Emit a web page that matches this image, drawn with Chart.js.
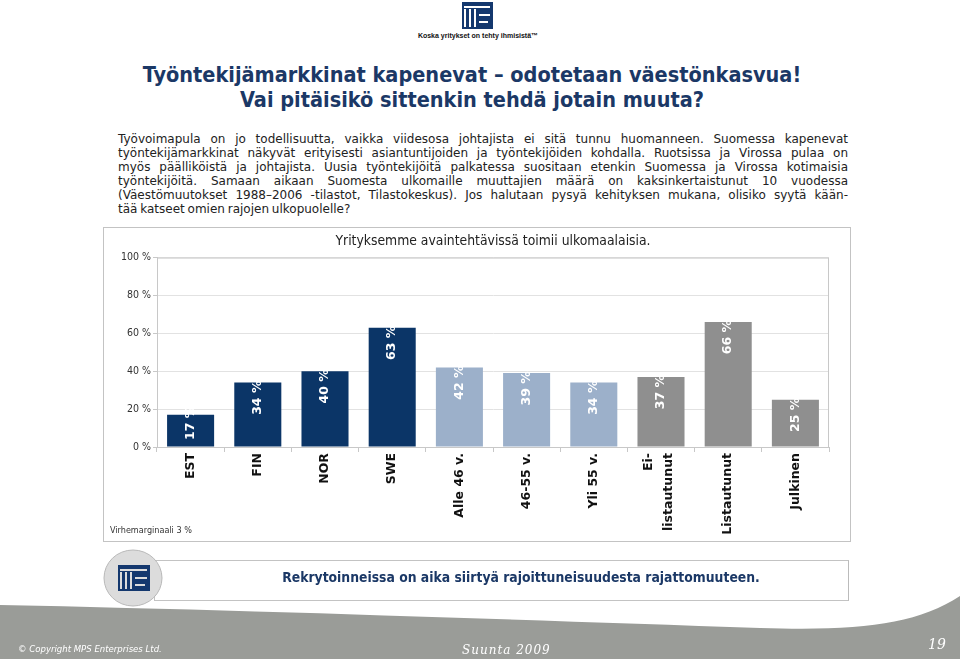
<!DOCTYPE html>
<html>
<head>
<meta charset="utf-8">
<script src="https://cdn.jsdelivr.net/npm/chart.js@4"></script>
<style>
  html, body { margin: 0; padding: 0; }
  body { width: 960px; height: 659px; position: relative; overflow: hidden; background: #fff; font-family: 'DejaVu Sans', sans-serif; }
  .abs { position: absolute; }
  #tagline { left: 380px; width: 196px; top: 32px; text-align: center; font: bold 7px 'Liberation Sans', sans-serif; color: #111; }
  #title { left: 0; width: 944px; top: 62px; text-align: center; font: bold 21.5px 'DejaVu Sans Condensed', sans-serif; line-height: 25px; color: #1b3866; }
  #intro { left: 118px; width: 730px; top: 132px; font-size: 12px; line-height: 14px; color: #222; word-spacing: -1px; }
  #intro div { text-align: justify; text-align-last: justify; white-space: nowrap; }
  #intro div.last { text-align-last: left; }
  #box { left: 103px; top: 227px; width: 748px; height: 315px; border: 1px solid #c3c3c3; box-sizing: border-box; }
  #wrap { position: relative; width: 746px; height: 313px; }
  #note { left: 110px; top: 525px; font: 9px 'DejaVu Sans Condensed', sans-serif; color: #333; }
  #callout { left: 154px; top: 560px; width: 695px; height: 41px; border: 1px solid #c3c3c3; border-right: 1.5px solid #bbb; box-sizing: border-box; }
  #callText { left: 154px; width: 734px; top: 569px; text-align: center; font: bold 13.8px 'DejaVu Sans Condensed', sans-serif; color: #1b3866; }
  #copy { left: 18px; top: 643px; font: italic 9.5px 'DejaVu Sans Condensed', sans-serif; color: #fff; }
  #suunta { left: 462px; top: 643px; font: italic 12px 'DejaVu Serif', serif; letter-spacing: 1px; color: #fff; }
  #page { left: 928px; top: 636px; font: italic 14px 'DejaVu Serif', serif; color: #fff; }
</style>
</head>
<body>

<svg class="abs" style="left:462px;top:2px" width="31" height="27" viewBox="0 0 31 27">
  <rect x="0" y="0" width="31" height="27" fill="#14386e"/>
  <rect x="2" y="7" width="2" height="18" fill="#fff"/>
  <rect x="7" y="7" width="2" height="18" fill="#fff"/>
  <rect x="12" y="7" width="2" height="18" fill="#fff"/>
  <rect x="2" y="4" width="26" height="2" fill="#fff"/>
  <rect x="17" y="12" width="11" height="2" fill="#fff"/>
  <rect x="17" y="19" width="9" height="2" fill="#fff"/>
</svg>
<div id="tagline" class="abs">Koska yritykset on tehty ihmisistä™</div>

<div id="title" class="abs">Työntekijämarkkinat kapenevat – odotetaan väestönkasvua!<br>Vai pitäisikö sittenkin tehdä jotain muuta?</div>

<div id="intro" class="abs">
  <div>Työvoimapula on jo todellisuutta, vaikka viidesosa johtajista ei sitä tunnu huomanneen. Suomessa kapenevat</div>
  <div>työntekijämarkkinat näkyvät erityisesti asiantuntijoiden ja työntekijöiden kohdalla. Ruotsissa ja Virossa pulaa on</div>
  <div>myös päälliköistä ja johtajista. Uusia työntekijöitä palkatessa suositaan etenkin Suomessa ja Virossa kotimaisia</div>
  <div>työntekijöitä. Samaan aikaan Suomesta ulkomaille muuttajien määrä on kaksinkertaistunut 10 vuodessa</div>
  <div>(Väestömuutokset 1988–2006 -tilastot, Tilastokeskus). Jos halutaan pysyä kehityksen mukana, olisiko syytä kään-</div>
  <div class="last">tää katseet omien rajojen ulkopuolelle?</div>
</div>

<div id="box" class="abs"><div id="wrap"><canvas id="chartMain"></canvas></div></div>
<div id="note" class="abs">Virhemarginaali 3 %</div>

<div id="callout" class="abs"></div>
<svg class="abs" style="left:102px;top:549px" width="64" height="60" viewBox="0 0 64 60">
  <ellipse cx="31" cy="29" rx="29" ry="28" fill="#dcdcdc" stroke="#b8b8b8" stroke-width="1"/>
  <rect x="16" y="16" width="32" height="26" fill="#14386e"/>
  <rect x="18" y="23" width="2" height="17" fill="#dcdcdc"/>
  <rect x="23" y="23" width="2" height="17" fill="#dcdcdc"/>
  <rect x="28" y="23" width="2" height="17" fill="#dcdcdc"/>
  <rect x="18" y="20" width="27" height="2" fill="#dcdcdc"/>
  <rect x="33" y="28" width="12" height="2" fill="#dcdcdc"/>
  <rect x="33" y="35" width="10" height="2" fill="#dcdcdc"/>
</svg>
<div id="callText" class="abs">Rekrytoinneissa on aika siirtyä rajoittuneisuudesta rajattomuuteen.</div>

<svg class="abs" style="left:0;top:590px" width="960" height="69" viewBox="0 0 960 69">
  <path d="M0,15 C250,20 520,30 760,38 C860,41 915,35 960,6 L960,69 L0,69 Z" fill="#9a9c98"/>
</svg>
<div id="copy" class="abs">© Copyright MPS Enterprises Ltd.</div>
<div id="suunta" class="abs">Suunta 2009</div>
<div id="page" class="abs">19</div>

<script>
const chartTitle = "Yrityksemme avaintehtävissä toimii ulkomaalaisia.";
const categories = ["EST", "FIN", "NOR", "SWE", "Alle 46 v.", "46-55 v.", "Yli 55 v.", ["Ei-", "listautunut"], "Listautunut", "Julkinen"];
const values = [17, 34, 40, 63, 42, 39, 34, 37, 66, 25];
const groups = [0, 0, 0, 0, 1, 1, 1, 2, 2, 2];
const yTicks = [0, 20, 40, 60, 80, 100];

const palette = ["#0b3567", "#9cb0ca", "#8f8f8f"];
const lineGrey = "#c8c8c8";

Chart.defaults.font.family = "'DejaVu Sans', sans-serif";

// plot frame (top and right edges)
const frame = {
    id: "frame",
    beforeDatasetsDraw(chart) {
        const a = chart.chartArea;
        const c = chart.ctx;
        c.save();
        c.strokeStyle = lineGrey;
        c.lineWidth = 1;
        c.strokeRect(a.left + 0.5, a.top + 0.5, a.right - a.left - 1, a.bottom - a.top);
        c.restore();
    },
};

// center wrapped x labels on their tick (Chart.js starts them at the tick)
const centerWrapped = {
    id: "centerWrapped",
    beforeDraw(chart) {
        const items = chart.scales.x.getLabelItems();
        items.forEach((it) => {
            if (Array.isArray(it.label) && it.label.length > 1 && !it._shifted) {
                const lh = it.font.lineHeight;
                it.options.translation[0] -= (lh * (it.label.length - 1)) / 2 + 2;
                it._shifted = true;
            }
        });
    },
};

// white vertical value labels at the top of each bar
const barLabels = {
    id: "barLabels",
    afterDatasetsDraw(chart) {
        const c = chart.ctx;
        const base = chart.scales.y.getPixelForValue(0);
        c.save();
        c.font = "bold 12.5px 'DejaVu Sans', sans-serif";
        c.fillStyle = "#fff";
        c.textAlign = "left";
        c.textBaseline = "middle";
        chart.getDatasetMeta(0).data.forEach((bar, i) => {
            const txt = values[i] + " %";
            const w = c.measureText(txt).width;
            let end = bar.y - 2;
            if (end + w > base - 7) end = base - 7 - w;
            c.save();
            c.translate(bar.x, end + w);
            c.rotate(-Math.PI / 2);
            c.fillText(txt, 0, 0);
            c.restore();
        });
        c.restore();
    },
};

new Chart(document.getElementById("chartMain"), {
    type: "bar",
    data: {
        labels: categories,
        datasets: [
            {
                data: values,
                backgroundColor: groups.map((g) => palette[g]),
                borderWidth: 0,
                barPercentage: 0.7,
                categoryPercentage: 1,
            },
        ],
    },
    options: {
        responsive: true,
        maintainAspectRatio: false,
        animation: false,
        layout: { padding: { left: 0, right: 21, top: 0, bottom: 0 } },
        plugins: {
            legend: { display: false },
            tooltip: { enabled: false },
            title: {
                display: true,
                text: chartTitle,
                fullSize: false,
                color: "#222",
                font: { family: "'DejaVu Sans Condensed', sans-serif", size: 13.8, weight: "normal" },
                padding: { top: 5, bottom: 8 },
            },
        },
        scales: {
            x: {
                grid: { drawOnChartArea: false, drawTicks: true, tickLength: 5, color: lineGrey, offset: true },
                border: { color: lineGrey },
                ticks: {
                    autoSkip: false,
                    maxRotation: 90,
                    minRotation: 90,
                    padding: 1,
                    color: "#111",
                    font: { size: 12.5, weight: "bold", lineHeight: 1.6 },
                },
                afterFit(s) { s.height = 94; },
            },
            y: {
                min: 0,
                max: 100,
                afterBuildTicks(s) { s.ticks = yTicks.map((v) => ({ value: v })); },
                ticks: {
                    callback: (v) => v + " %",
                    color: "#333",
                    padding: 2,
                    font: { family: "'DejaVu Sans Condensed', sans-serif", size: 10.5 },
                },
                grid: { color: "#e2e2e2", tickColor: lineGrey, tickLength: 4 },
                border: { color: lineGrey },
                afterFit(s) { s.width = 53; },
            },
        },
    },
    plugins: [frame, centerWrapped, barLabels],
});
</script>
</body>
</html>
